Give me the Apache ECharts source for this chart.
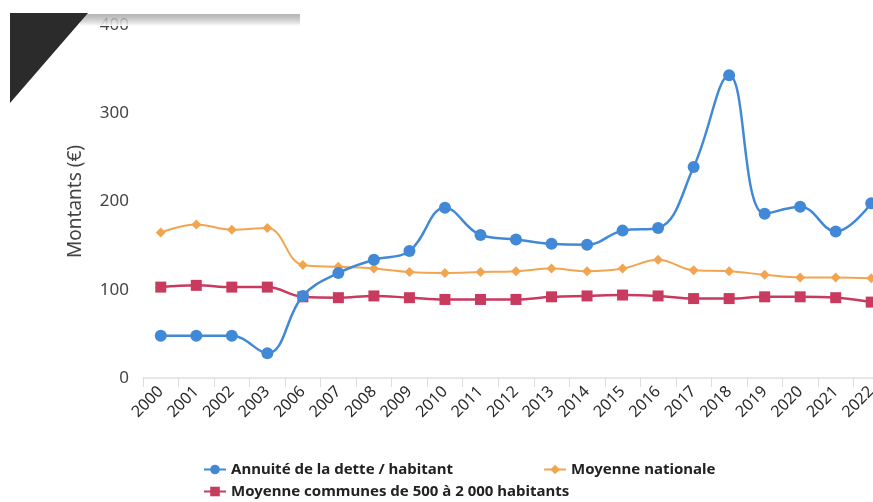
<!DOCTYPE html>
<html><head><meta charset="utf-8">
<script src="https://cdn.jsdelivr.net/npm/echarts@6/dist/echarts.min.js"></script>
<style>html,body{margin:0;padding:0;background:#fff;overflow:hidden;width:873px;height:502px}#c{width:889px;height:502px}</style>
</head><body><div id="c"></div>
<script>
const categories = ['2000','2001','2002','2003','2006','2007','2008','2009','2010','2011','2012','2013','2014','2015','2016','2017','2018','2019','2020','2021','2022'];
const annuite = [48,48,48,28,93,119,134,144,193,162,157,152,151,167,170,239,343,186,194,166,198];
const moyNationale = [165,174,168,170,128,126,124,120,119,120,121,124,121,124,134,122,121,117,114,114,113];
const moyCommunes = [103,105,103,103,92,91,93,91,89,89,89,92,93,94,93,90,90,92,92,91,86];
const yTicks = [0,100,200,300,400];
const names = ['Annuité de la dette / habitant','Moyenne nationale','Moyenne communes de 500 à 2 000 habitants'];

const chart = echarts.init(document.getElementById('c'));
const font = 'Noto Sans';
chart.setOption({
  animation:false,
  textStyle:{fontFamily:font},
  grid:{left:143,right:0,top:25,bottom:124},
  xAxis:{type:'category',data:categories,boundaryGap:true,
    axisLine:{lineStyle:{color:'#e0e0e0',width:1.5}},
    axisTick:{show:true,length:9,lineStyle:{color:'#dcdcdc'}},
    axisLabel:{rotate:45,color:'#2a2a2a',fontSize:16,margin:11}},
  yAxis:{type:'value',min:yTicks[0],max:yTicks[yTicks.length-1],interval:100,
    name:'Montants (€)',nameLocation:'middle',nameGap:58,nameRotate:90,
    nameTextStyle:{color:'#444',fontSize:19},
    axisLine:{show:false},axisTick:{show:false},splitLine:{show:false},
    axisLabel:{color:'#444',fontSize:17,margin:14}},
  legend:[
    {data:[names[0],names[1]],left:198,top:457,itemGap:90,itemWidth:22,itemHeight:12,
      textStyle:{fontSize:15,fontWeight:'bold',color:'#222'}},
    {data:[names[2]],left:198,top:479,itemWidth:22,itemHeight:12,
      textStyle:{fontSize:15,fontWeight:'bold',color:'#222'}}
  ],
  series:[
    {name:names[0],type:'line',data:annuite,smooth:0.4,symbol:'circle',symbolSize:12,z:3,
      itemStyle:{color:'#4189d6'},lineStyle:{width:2.5,color:'#4189d6'}},
    {name:names[1],type:'line',data:moyNationale,smooth:0.4,symbol:'diamond',symbolSize:10,z:2,
      itemStyle:{color:'#f2a550'},lineStyle:{width:2,color:'#f2a550'}},
    {name:names[2],type:'line',data:moyCommunes,smooth:0.4,symbol:'rect',symbolSize:11,z:2,
      itemStyle:{color:'#c93a5f'},lineStyle:{width:2.5,color:'#c93a5f'}}
  ],
  graphic:[
    {type:'rect',shape:{x:0,y:0,width:889,height:14},style:{fill:'#fff'},z:100},
    {type:'rect',shape:{x:80,y:12,width:220,height:14},z:99,
      style:{fill:new echarts.graphic.LinearGradient(0,0,0,1,[{offset:0,color:'rgba(120,120,120,0.6)'},{offset:1,color:'rgba(255,255,255,0.95)'}])}},
    {type:'polygon',shape:{points:[[10,13],[88,13],[10,103]]},style:{fill:'#2b2b2b'},z:101}
  ]
});
</script></body></html>
